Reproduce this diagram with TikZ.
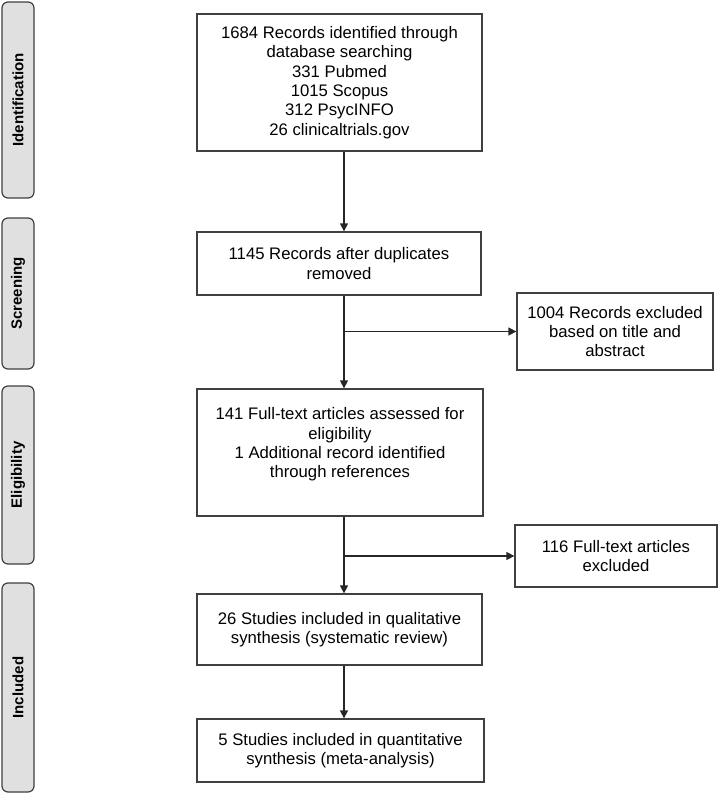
\documentclass[tikz,border=0pt]{standalone}
\usepackage{fontspec}
\setmainfont{Liberation Sans}
\usetikzlibrary{arrows.meta}
\definecolor{boxline}{HTML}{404040}
\definecolor{barfill}{HTML}{E0E0E0}
\tikzset{
  flowbox/.style={draw=boxline, line width=1.3pt, inner sep=0pt, align=center,
    font=\fontsize{16.7}{19.4}\selectfont, text=black},
  phasebar/.style={draw=boxline, fill=barfill, line width=1.2pt, rounded corners=6pt},
  phaselabel/.style={rotate=90, font=\fontsize{15}{18}\selectfont\bfseries, text=black},
  flowarrow/.style={draw=black!85, line width=1.4pt, -{Triangle[length=8pt,width=8pt]}}
}
\begin{document}
\begin{tikzpicture}[x=1pt,y=-1pt]
\useasboundingbox (0,0) rectangle (722,795);
% phase bars
\draw[phasebar] (2,2) rectangle (34,198);
\node[phaselabel] (lid) at (18,100) {Identification};
\draw[phasebar] (2,218) rectangle (34,369);
\node[phaselabel] (lsc) at (18,293.5) {Screening};
\draw[phasebar] (2,386) rectangle (34,564);
\node[phaselabel] (lel) at (18,475) {Eligibility};
\draw[phasebar] (2,583) rectangle (34,792);
\node[phaselabel] (lin) at (18,687.5) {Included};
% boxes
\node[flowbox, minimum width=285pt, minimum height=137pt] (b1) at (339.5,82.5)
  {1684 Records identified through\\database searching\\331 Pubmed\\1015 Scopus\\312 PsycINFO\\26 clinicaltrials.gov};
\node[flowbox, minimum width=284pt, minimum height=63pt] (b2) at (339,263.5)
  {1145 Records after duplicates\\removed};
\node[flowbox, minimum width=196pt, minimum height=77pt] (e1) at (615,331.5)
  {1004 Records excluded\\based on title and\\abstract};
\node[flowbox, minimum width=286pt, minimum height=127pt] (b3) at (340,452.5)
  {141 Full-text articles assessed for\\eligibility\\1 Additional record identified\\through references\\\mbox{}};
\node[flowbox, minimum width=202pt, minimum height=62pt] (e2) at (616,556)
  {116 Full-text articles\\excluded};
\node[flowbox, minimum width=285pt, minimum height=71pt] (b4) at (339.5,629.5)
  {26 Studies included in qualitative\\synthesis (systematic review)};
\node[flowbox, minimum width=287pt, minimum height=63pt] (b5) at (340.5,750.5)
  {5 Studies included in quantitative\\synthesis (meta-analysis)};
% connectors
\coordinate (s1) at (344,331.5);
\coordinate (s2) at (344,556);
\draw[flowarrow] (b1.south -| s1) -- (b2.north -| s1);
\draw[flowarrow] (b2.south -| s1) -- (b3.north -| s1);
\draw[flowarrow] (s1) -- (e1.west);
\draw[flowarrow] (b3.south -| s2) -- (b4.north -| s2);
\draw[flowarrow] (s2) -- (e2.west);
\draw[flowarrow] (b4.south -| s2) -- (b5.north -| s2);
\end{tikzpicture}
\end{document}
